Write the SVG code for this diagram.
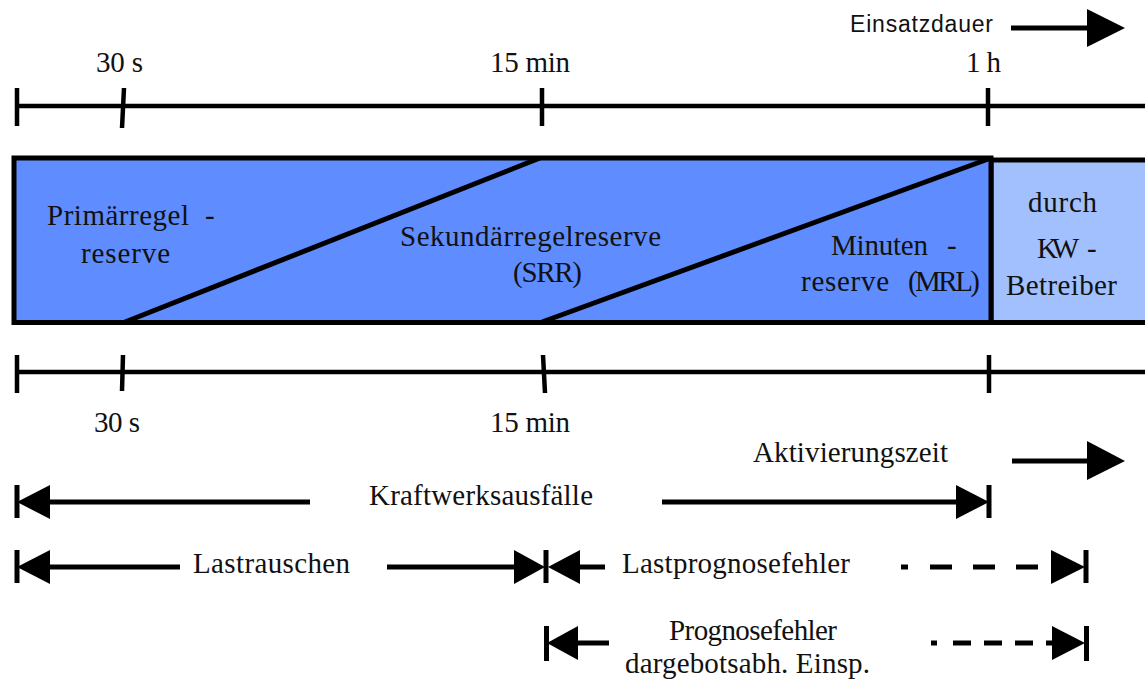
<svg xmlns="http://www.w3.org/2000/svg" width="1145" height="681" viewBox="0 0 1145 681">
  <style>
    .t { font-family: "Liberation Serif", "Times New Roman", serif; font-size: 29px; fill: #111; }
    .s { font-family: "Liberation Sans", Arial, sans-serif; font-size: 23px; fill: #111; }
    .ax { stroke: #000; stroke-width: 4.5; fill: none; }
    .ln { stroke: #000; stroke-width: 5; fill: none; }
    .dash { stroke: #000; stroke-width: 5; fill: none; }
    .head { fill: #000; stroke: none; }
    .band { fill: #5f8dff; stroke: #000; stroke-width: 5; }
    .band2 { fill: #a1c0fd; stroke: #000; stroke-width: 5; }
  </style>
  <rect width="1145" height="681" fill="#fff"/>

  <!-- Einsatzdauer axis (top) -->
  <g id="axis-top">
    <path class="ax" d="M17 106 H1150 M17 88 V126 M124 88 L122 128 M542 88 V126 M988 88 V126"/>
    <text class="t" x="96" y="72" textLength="47">30 s</text>
    <text class="t" x="490" y="72" textLength="80">15 min</text>
    <text class="t" x="966" y="72" textLength="35">1 h</text>
  </g>
  <g id="einsatzdauer">
    <text class="s" x="850" y="32" textLength="143">Einsatzdauer</text>
    <path class="ln" d="M1011 28 H1090"/>
    <polygon class="head" points="1087,9 1125,28 1087,47"/>
  </g>

  <!-- reserve band -->
  <g id="band">
    <rect class="band2" x="991" y="160" width="165" height="162.5"/>
    <rect class="band" x="14" y="158" width="977" height="164.5"/>
    <path class="ln" d="M125 322 L540 158 M542 322 L991 158"/>
  </g>
  <g id="prl">
    <text class="t" x="47" y="225" textLength="142">Primärregel</text>
    <text class="t" x="205" y="225">-</text>
    <text class="t" x="81" y="263" textLength="89">reserve</text>
  </g>
  <g id="srr">
    <text class="t" x="400" y="246" textLength="261">Sekundärregelreserve</text>
    <text class="t" x="513" y="282" textLength="69">(SRR)</text>
  </g>
  <g id="mrl">
    <text class="t" x="831" y="255" textLength="97">Minuten</text>
    <text class="t" x="947" y="255">-</text>
    <text class="t" x="801" y="291" textLength="88">reserve</text>
    <text class="t" x="908" y="291" textLength="72">(MRL)</text>
  </g>
  <g id="kw">
    <text class="t" x="1028" y="212" textLength="69">durch</text>
    <text class="t" x="1037" y="258" textLength="42">KW</text>
    <text class="t" x="1087" y="258">-</text>
    <text class="t" x="1006" y="295" textLength="111">Betreiber</text>
  </g>

  <!-- Aktivierungszeit axis (bottom) -->
  <g id="axis-bottom">
    <path class="ax" d="M17 372 H1150 M17 355 V393 M123 355 L122 391 M543 355 L545 393 M989 355 V393"/>
    <text class="t" x="94" y="432" textLength="46">30 s</text>
    <text class="t" x="490" y="432" textLength="80">15 min</text>
  </g>
  <g id="aktivierungszeit">
    <text class="t" x="753" y="462" textLength="195">Aktivierungszeit</text>
    <path class="ln" d="M1012 461 H1090"/>
    <polygon class="head" points="1087,441 1125,461 1087,480"/>
  </g>

  <!-- causes and their time ranges -->
  <g id="connectors">
    <!-- Kraftwerksausfälle -->
    <path class="ln" d="M17 485 V518 M50 502 H310 M662 502 H960 M989 485 V518"/>
    <polygon class="head" points="17,502 50,485 50,519"/>
    <polygon class="head" points="989,502 956,485 956,519"/>
    <!-- Lastrauschen -->
    <path class="ln" d="M17 550 V583 M50 567 H180 M387 567 H518 M546 550 V583"/>
    <polygon class="head" points="17,567 50,550 50,584"/>
    <polygon class="head" points="545,567 514,550 514,584"/>
    <!-- Lastprognosefehler -->
    <polygon class="head" points="548,567 580,550 580,584"/>
    <path class="ln" d="M578 567 H605 M1086 550 V583"/>
    <path class="ln" d="M901 567 H908"/>
    <path class="dash" d="M930 567 H1060" stroke-dasharray="22 21"/>
    <polygon class="head" points="1085,567 1051,550 1051,584"/>
    <!-- Prognosefehler dargebotsabh. Einspeisung -->
    <path class="ln" d="M546.5 626 V661 M576 643 H609 M1086.5 626 V661"/>
    <polygon class="head" points="547,643 578,626 578,660"/>
    <path class="ln" d="M931 643 H937"/>
    <path class="dash" d="M953 643 H1060" stroke-dasharray="18 13"/>
    <polygon class="head" points="1085,643 1052,626 1052,660"/>
  </g>
  <g id="labels">
    <text class="t" x="369" y="505" textLength="224">Kraftwerksausfälle</text>
    <text class="t" x="193" y="573" textLength="157">Lastrauschen</text>
    <text class="t" x="622" y="573" textLength="228">Lastprognosefehler</text>
    <text class="t" x="669" y="640" textLength="168">Prognosefehler</text>
    <text class="t" x="625" y="673" textLength="245">dargebotsabh. Einsp.</text>
  </g>
</svg>
